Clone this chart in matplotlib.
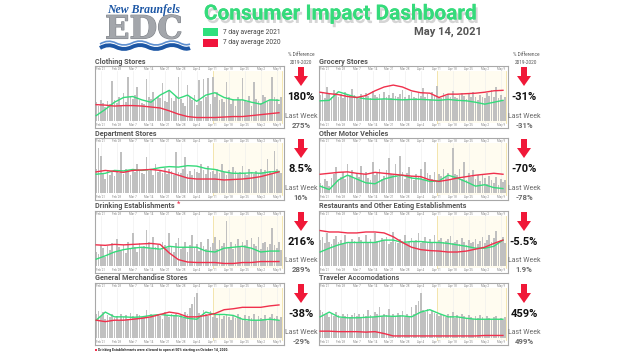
import matplotlib

matplotlib.use("Agg")
import matplotlib.pyplot as plt
import matplotlib.patheffects as pe
from matplotlib.patches import Rectangle, Polygon, PathPatch
from matplotlib.path import Path
import numpy as np

W, H = 640, 360

GREEN = "#35db7b"
RED = "#f0304c"
BAR = "#c0c0c0"

DATE_LABELS = ["Feb 21", "Feb 28", "Mar 7", "Mar 14", "Mar 21", "Mar 28",
               "Apr 4", "Apr 11", "Apr 18", "Apr 25", "May 2", "May 9"]
LABEL_DAYS = [0, 7, 14, 21, 28, 35, 42, 49, 56, 63, 70, 77]
FIRST_BAR_DAY = -2
LINE_DAYS = [-2, 2, 6, 10, 14, 18, 22, 26, 30, 34, 38, 42, 46, 50, 54, 58, 62, 66, 70, 74, 78]
SHADE_START, SHADE_END = 49, 79.4

# daily bars (share of panel height), Feb 19 .. May 10
clothing_bars = [40, 32, 45, 38, 30, 42, 36, 85, 44, 38, 50, 32, 60, 40,
                 92, 50, 46, 55, 72, 44, 38, 36, 88, 52, 46, 62, 44, 50,
                 48, 80, 42, 40, 66, 48, 42, 54, 92, 46, 38, 32, 76, 50,
                 44, 56, 34, 86, 42, 88, 52, 90, 36, 92, 50, 62, 44, 46,
                 40, 82, 52, 36, 46, 32, 50, 44, 90, 42, 40, 54, 32, 82,
                 46, 42, 38, 56, 50, 40, 44, 92, 52, 46, 36, 50]
clothing_2021 = [12, 25, 40, 50, 52, 45, 40, 55, 65, 48, 55, 42, 55, 60, 50, 45, 45, 40, 36, 45, 44]
clothing_2020 = [35, 34, 32, 33, 33, 32, 30, 28, 22, 15, 10, 8, 8, 8, 9, 10, 10, 12, 14, 16, 18]

grocery_bars = [55, 62, 48, 72, 58, 50, 66, 60, 52, 58, 48, 62, 55, 50,
                68, 56, 52, 46, 58, 52, 60, 54, 48, 64, 56, 50, 58, 46,
                62, 52, 56, 48, 60, 54, 50, 58, 66, 50, 46, 56, 62, 52,
                48, 60, 54, 70, 50, 58, 46, 62, 56, 75, 52, 48, 60, 54,
                58, 50, 64, 52, 48, 56, 60, 54, 46, 58, 52, 62, 50, 44,
                56, 52, 48, 60, 54, 66, 50, 72, 48, 56, 44, 52]
grocery_2021 = [43, 44, 62, 56, 50, 47, 46, 47, 46, 45, 46, 46, 45, 44, 46, 44, 43, 40, 36, 40, 44]
grocery_2020 = [61, 58, 56, 52, 50, 54, 64, 72, 76, 72, 64, 60, 59, 50, 57, 57, 58, 59, 61, 64, 65]

department_bars = [50, 95, 78, 40, 30, 46, 38, 44, 36, 48, 42, 86, 40, 50,
                   46, 38, 52, 44, 62, 48, 42, 40, 76, 46, 50, 38, 62, 44,
                   48, 42, 54, 40, 52, 46, 38, 86, 44, 42, 50, 76, 40, 46,
                   38, 52, 44, 42, 62, 48, 40, 58, 44, 46, 40, 52, 42, 62,
                   44, 38, 48, 42, 56, 46, 40, 44, 58, 42, 38, 50, 44, 40,
                   46, 42, 52, 44, 48, 72, 46, 40, 88, 50, 46, 42]
department_2021 = [40, 42, 48, 47, 50, 48, 50, 54, 56, 55, 58, 57, 52, 50, 45, 42, 42, 43, 42, 45, 46]
department_2020 = [45, 48, 46, 44, 48, 49, 50, 48, 44, 38, 32, 30, 30, 30, 28, 29, 30, 32, 35, 40, 45]

motor_bars = [22, 18, 30, 25, 15, 32, 40, 55, 28, 35, 45, 30, 62, 38,
              48, 30, 42, 35, 58, 40, 45, 32, 28, 66, 38, 44, 52, 30,
              36, 48, 74, 40, 38, 62, 34, 78, 45, 30, 42, 56, 36, 28,
              40, 34, 50, 30, 66, 42, 38, 30, 45, 25, 40, 36, 52, 34,
              42, 30, 95, 40, 38, 52, 30, 66, 28, 42, 35, 48, 30, 38,
              25, 40, 32, 20, 36, 28, 22, 35, 18, 30, 24, 28]
motor_2021 = [15, 8, 28, 38, 30, 22, 20, 30, 35, 38, 32, 30, 25, 26, 38, 32, 24, 15, 18, 12, 10]
motor_2020 = [40, 42, 44, 45, 42, 40, 44, 42, 40, 38, 36, 35, 28, 25, 28, 32, 35, 38, 40, 42, 40]

drinking_bars = [30, 25, 45, 38, 20, 42, 35, 48, 30, 58, 40, 32, 45, 28,
                 50, 36, 70, 40, 30, 48, 38, 42, 76, 50, 36, 62, 40, 45,
                 34, 52, 44, 38, 70, 42, 30, 48, 60, 36, 40, 52, 30, 44,
                 66, 38, 46, 32, 50, 42, 36, 58, 40, 48, 62, 36, 55, 42,
                 48, 95, 40, 52, 36, 46, 58, 40, 50, 44, 56, 38, 60, 46,
                 42, 62, 36, 48, 52, 40, 46, 80, 44, 38, 50, 34]
drinking_2021 = [15, 22, 30, 35, 38, 40, 38, 36, 42, 40, 40, 40, 32, 30, 38, 40, 42, 38, 30, 32, 32]
drinking_2020 = [45, 44, 46, 45, 46, 47, 48, 46, 28, 14, 9, 8, 8, 8, 6, 6, 8, 8, 10, 10, 10]

restaurant_bars = [55, 62, 48, 70, 52, 46, 58, 64, 50, 56, 46, 66, 52, 48,
                   58, 54, 50, 62, 56, 48, 66, 52, 58, 48, 70, 54, 50, 60,
                   56, 62, 46, 52, 72, 50, 48, 58, 54, 66, 48, 52, 60, 50,
                   56, 70, 48, 54, 62, 50, 58, 52, 66, 48, 56, 60, 50, 54,
                   58, 64, 48, 52, 56, 46, 60, 50, 44, 56, 48, 52, 58, 46,
                   54, 62, 48, 56, 66, 52, 60, 74, 50, 56, 62, 48]
restaurant_2021 = [30, 38, 45, 50, 50, 50, 50, 55, 55, 50, 52, 52, 50, 50, 48, 45, 42, 38, 38, 42, 55]
restaurant_2020 = [75, 72, 72, 70, 70, 72, 72, 70, 62, 50, 40, 35, 33, 32, 30, 30, 32, 36, 40, 48, 55]

general_bars = [52, 58, 46, 55, 40, 48, 44, 50, 42, 46, 38, 52, 44, 48,
                40, 54, 46, 42, 50, 48, 44, 46, 60, 42, 50, 44, 48, 52,
                46, 40, 56, 48, 44, 52, 46, 50, 44, 48, 42, 56, 50, 64,
                72, 86, 95, 54, 48, 60, 50, 46, 58, 44, 50, 42, 48, 40,
                46, 52, 44, 38, 48, 42, 50, 44, 40, 48, 36, 46, 42, 50,
                38, 46, 42, 40, 48, 36, 44, 50, 42, 46, 38, 44]
general_2021 = [38, 55, 45, 45, 44, 45, 48, 50, 48, 47, 42, 40, 55, 50, 50, 48, 40, 38, 38, 40, 38]
general_2020 = [38, 35, 38, 38, 40, 42, 45, 50, 55, 52, 45, 45, 48, 52, 60, 62, 65, 65, 65, 68, 70]

traveler_bars = [60, 55, 48, 52, 44, 50, 46, 56, 48, 42, 50, 46, 52, 44,
                 48, 54, 46, 50, 44, 52, 46, 60, 48, 44, 56, 50, 66, 46,
                 52, 48, 62, 44, 50, 46, 54, 48, 58, 44, 50, 46, 66, 52,
                 70, 78, 95, 60, 56, 62, 52, 58, 54, 50, 46, 52, 48, 44,
                 50, 46, 56, 42, 48, 44, 50, 46, 42, 48, 44, 40, 46, 42,
                 48, 44, 40, 46, 42, 38, 44, 46, 40, 42, 38, 44]
traveler_2021 = [45, 55, 45, 43, 43, 44, 45, 47, 46, 47, 45, 55, 60, 52, 45, 45, 42, 40, 40, 40, 40]
traveler_2020 = [15, 15, 14, 14, 14, 13, 14, 10, 5, 5, 5, 5, 5, 5, 5, 5, 5, 5, 6, 6, 6]

# title, bars, 2021, 2020, % diff, last week, column, row
PANELS = [
    ("Clothing Stores", clothing_bars, clothing_2021, clothing_2020, "180%", "275%", 0, 0),
    ("Department Stores", department_bars, department_2021, department_2020, "8.5%", "16%", 0, 1),
    ("Drinking Establishments", drinking_bars, drinking_2021, drinking_2020, "216%", "289%", 0, 2),
    ("General Merchandise Stores", general_bars, general_2021, general_2020, "-38%", "-29%", 0, 3),
    ("Grocery Stores", grocery_bars, grocery_2021, grocery_2020, "-31%", "-31%", 1, 0),
    ("Other Motor Vehicles", motor_bars, motor_2021, motor_2020, "-70%", "-78%", 1, 1),
    ("Restaurants and Other Eating Establishments", restaurant_bars, restaurant_2021,
     restaurant_2020, "-5.5%", "1.9%", 1, 2),
    ("Traveler Accomodations", traveler_bars, traveler_2021, traveler_2020, "459%", "499%", 1, 3),
]

BOX_X = [95, 319]
BOX_W = 189
BOX_TOP = [66, 138, 211, 283]
BOX_H = 62
ARROW_X = [301, 524]

plt.rcParams["font.family"] = ["Roboto", "DejaVu Sans"]

fig = plt.figure(figsize=(6.4, 3.6), dpi=100)
fig.patch.set_facecolor("white")

# overlay in pixel coordinates for headers, arrows, logo (kept above the panels)
ov = fig.add_axes([0, 0, 1, 1])
ov.set_xlim(0, W)
ov.set_ylim(H, 0)
ov.axis("off")
ov.set_zorder(10)
ov.patch.set_alpha(0)

# logo
ov.text(144, 10, "New Braunfels", fontsize=8.5, fontstyle="italic", fontweight="bold",
        family="Liberation Serif", color="#1d57a5", ha="center", va="center")
ov.text(144, 30, "EDC", fontsize=23, fontweight="bold", family="DejaVu Serif",
        color="#a3a6ab", ha="center", va="center",
        path_effects=[pe.withStroke(linewidth=0.8, foreground="#7f8389")])
wave = [(100, 44), (108, 39), (116, 43), (124, 47), (132, 43), (140, 39), (148, 43),
        (156, 47), (164, 43), (172, 39), (180, 43), (186, 46), (190, 44)]
codes = [Path.MOVETO] + [Path.CURVE3] * (len(wave) - 1)
ov.add_patch(PathPatch(Path(wave, codes), fill=False, lw=1.2, edgecolor="#5d8fd0"))
wave2 = [(x, y + 4) for x, y in wave]
ov.add_patch(PathPatch(Path(wave2, codes), fill=False, lw=2.8, edgecolor="#1d57a5"))

# title
ov.text(341, 14, "Consumer Impact Dashboard", fontsize=15, fontweight="bold", color=GREEN,
        ha="center", va="center",
        path_effects=[pe.withSimplePatchShadow(offset=(1.5, -2.5), shadow_rgbFace="#888888",
                                               alpha=0.35), pe.Normal()])
ov.text(482, 32, "May 14, 2021", fontsize=8, fontweight="bold", color="#555555",
        ha="right", va="center")
ov.add_patch(Rectangle((203, 28), 15, 8, color="#2fe07d", lw=0))
ov.add_patch(Rectangle((203, 39), 15, 8, color="#f0143c", lw=0))
ov.text(223, 32, "7 day average 2021", fontsize=4.8, color="#444444", va="center")
ov.text(223, 43, "7 day average 2020", fontsize=4.8, color="#444444", va="center")

for cx in [301, 526]:
    ov.text(cx, 55, "% Difference", fontsize=3.4, color="#555555", ha="center", va="center")
    ov.text(cx, 62, "2019-2020", fontsize=3.4, color="#555555", ha="center", va="center")

ov.add_patch(Rectangle((95, 349), 2, 2, color=RED, lw=0))
ov.text(98.5, 350, "Drinking Establishments were allowed to open at 50% starting on October 14, 2020.",
        fontsize=2.5, fontweight="bold", color="#222222", va="center")


def draw_panel(title, bars, g21, r20, diff, last, col, row):
    x0, y0 = BOX_X[col], BOX_TOP[row]
    ax = fig.add_axes([x0 / W, 1 - (y0 + BOX_H) / H, BOX_W / W, BOX_H / H])
    ax.set_xlim(-2.5, 80.2)
    ax.set_ylim(-14, 116)
    ax.set_xticks([])
    ax.set_yticks([])
    for s in ax.spines.values():
        s.set_color("#a8a8a8")
        s.set_linewidth(0.8)

    ax.axvspan(SHADE_START, SHADE_END, ymin=0.08, ymax=0.92, color="#fffcf0", lw=0, zorder=0)
    for d in (SHADE_START, SHADE_END):
        ax.axvline(d, ymin=0.08, ymax=0.92, color="#f3e3a4", lw=0.6, zorder=0.5)
    trans = ax.get_xaxis_transform()
    for d, lbl in zip(LABEL_DAYS, DATE_LABELS):
        ax.axvline(d, ymin=0.08, ymax=0.92, color="#ececec", lw=0.4, zorder=0.2)
        ax.text(d, 0.955, lbl, transform=trans, fontsize=2.2, color="#8a8a8a",
                ha="center", va="center")
        ax.text(d, 0.045, lbl, transform=trans, fontsize=2.2, color="#8a8a8a",
                ha="center", va="center")

    days = np.arange(len(bars)) + FIRST_BAR_DAY
    ax.bar(days, bars, width=0.72, color=BAR, lw=0, zorder=1)
    ax.plot(LINE_DAYS, g21, color=GREEN, lw=1.0, zorder=3)
    ax.plot(LINE_DAYS, r20, color=RED, lw=1.0, zorder=3)

    t = ov.text(x0, y0 - 4.5, title, fontsize=5.2, fontweight="bold", color="#555555",
                va="center")
    if title.startswith("Drinking"):
        ov.annotate("*", xy=(1, 0.8), xycoords=t, xytext=(1.5, 0), textcoords="offset points",
                    fontsize=5, fontweight="bold", color=RED, va="center")

    cx = ARROW_X[col]
    top = y0 + 1
    ov.add_patch(Polygon([(cx - 3, top), (cx + 3, top), (cx + 3, top + 9), (cx + 7, top + 9),
                          (cx, top + 19), (cx - 7, top + 9), (cx - 3, top + 9)],
                         closed=True, color="#f01838", lw=0))
    ov.text(cx, y0 + 31, diff, fontsize=8, fontweight="bold", color="#111111",
            ha="center", va="center")
    ov.text(cx, y0 + 50, "Last Week", fontsize=5, color="#6a6a6a", ha="center", va="center")
    ov.text(cx, y0 + 59, last, fontsize=5.6, fontweight="bold", color="#6a6a6a",
            ha="center", va="center")


for p in PANELS:
    draw_panel(*p)

fig.savefig("out.png", dpi=100)
plt.close(fig)
